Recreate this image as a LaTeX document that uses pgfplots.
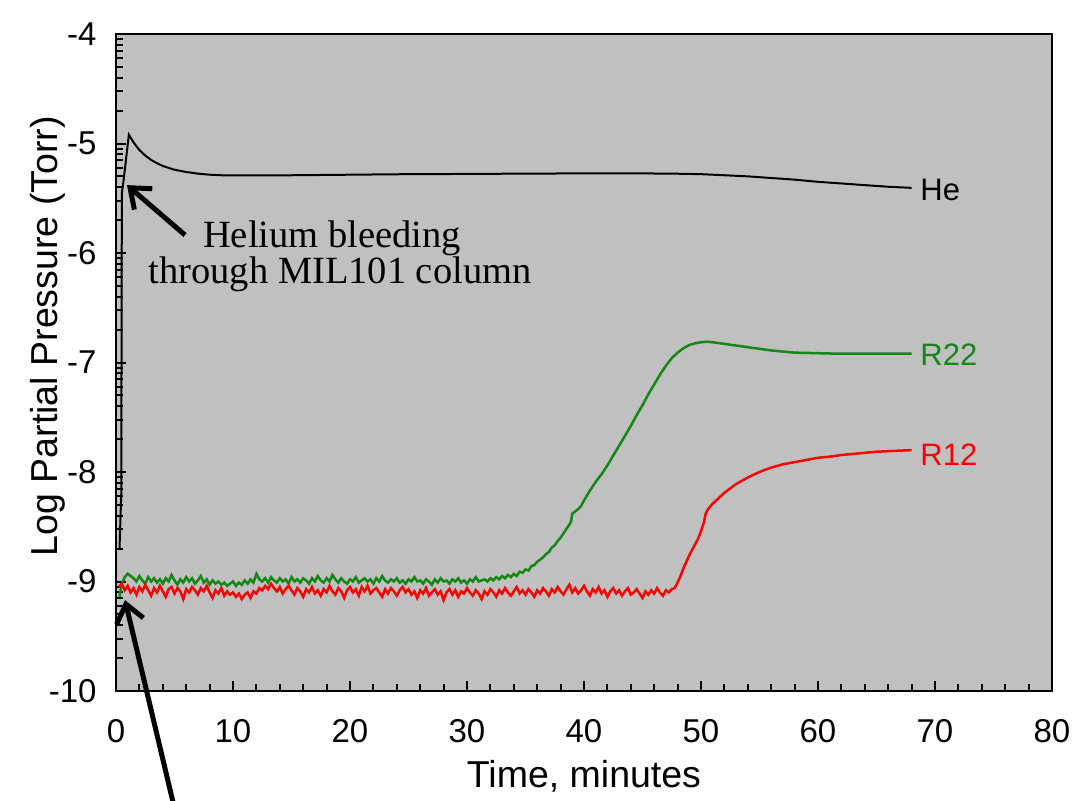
\documentclass[border=0pt]{standalone}
\usepackage{fontspec}
\setmainfont{Liberation Sans}
\newfontfamily\annfont{Liberation Serif}
\usepackage{pgfplots}
\pgfplotsset{compat=1.18}
\usetikzlibrary{arrows.meta}
\definecolor{bggray}{RGB}{192,192,192}
\definecolor{rgreen}{RGB}{20,135,20}
\definecolor{rred}{RGB}{255,0,0}

\begin{document}
\begin{tikzpicture}
\useasboundingbox (-46.4pt,-44pt) rectangle (383.6pt,276.4pt);
\begin{axis}[
    scale only axis,
    width=374.4pt, height=262.8pt,
    xmin=0, xmax=80, ymin=-10, ymax=-4,
    clip=false,
    axis background/.style={fill=bggray},
    axis line style={line width=1pt},
    xtick={0,10,...,80},
    minor x tick num=4,
    ytick={-10,-9,...,-4},
    yticklabels={-10,-9,-8,-7,-6,-5,-4},
    minor ytick={-9.69897,-9.52288,-9.39794,-9.30103,-9.22185,-9.15490,-9.09691,-9.04576,
                 -8.69897,-8.52288,-8.39794,-8.30103,-8.22185,-8.15490,-8.09691,-8.04576,
                 -7.69897,-7.52288,-7.39794,-7.30103,-7.22185,-7.15490,-7.09691,-7.04576,
                 -6.69897,-6.52288,-6.39794,-6.30103,-6.22185,-6.15490,-6.09691,-6.04576,
                 -5.69897,-5.52288,-5.39794,-5.30103,-5.22185,-5.15490,-5.09691,-5.04576,
                 -4.69897,-4.52288,-4.39794,-4.30103,-4.22185,-4.15490,-4.09691,-4.04576},
    xtick pos=bottom, ytick pos=left,
    tick align=inside,
    major tick length=4pt, minor tick length=2.8pt,
    every tick/.style={black, line width=0.8pt},
    /pgf/number format/assume math mode=true,
    xticklabel style={font=\fontsize{13.2}{15}\selectfont, anchor=base, yshift=-20.4pt},
    yticklabel style={font=\fontsize{13.2}{15}\selectfont, anchor=east, inner sep=0pt, xshift=-7.6pt},
    xlabel={Time, minutes},
    ylabel={Log Partial Pressure (Torr)},
    xlabel style={font=\fontsize{15}{17}\selectfont, at={(axis description cs:0.5,-0.1476)}, anchor=base},
    ylabel style={font=\fontsize{15}{17}\selectfont, at={(axis description cs:-0.063,0.54)}, anchor=base, rotate=0},
]
% He
\addplot[black, line width=0.8pt] coordinates {
(0.3,-8.7)(0.45,-8.2)(0.5,-5.45)(0.6,-5.38)(1.1,-4.92)(1.5,-4.99)(2,-5.06)(2.5,-5.11)(3,-5.15)(3.5,-5.18)
(4,-5.205)(5,-5.24)(6,-5.26)(7,-5.275)(8,-5.285)(9,-5.29)(10,-5.292)(12,-5.292)(15,-5.29)(20,-5.285)
(25,-5.28)(30,-5.278)(35,-5.275)(40,-5.273)(45,-5.273)(48,-5.276)(50,-5.28)(52,-5.29)(54,-5.30)(56,-5.315)
(58,-5.33)(60,-5.35)(62,-5.365)(64,-5.38)(66,-5.395)(68,-5.405)};
% R22
\addplot[rgreen, line width=1pt] coordinates {
(0.3,-9.14)(0.5,-9.02)(0.75,-8.96)(1,-8.93)(1.25,-8.95)
(1.5,-8.97)(1.75,-9.00)(2,-8.95)(2.25,-8.99)(2.5,-9.02)(2.75,-8.96)(3,-9.00)(3.25,-8.97)(3.5,-9.01)(3.75,-8.98)
(4,-9.02)(4.25,-8.97)(4.5,-9.00)(4.75,-8.94)(5,-8.99)(5.25,-9.03)(5.5,-8.98)(5.75,-9.01)(6,-8.96)(6.25,-9.00)
(6.5,-8.97)(6.75,-9.02)(7,-8.99)(7.25,-8.95)(7.5,-9.01)(7.75,-8.98)(8,-9.03)(8.25,-8.99)(8.5,-9.02)(8.75,-9.00)
(9,-9.03)(9.25,-9.01)(9.5,-9.04)(9.75,-9.02)(10,-9.00)(10.25,-9.04)(10.5,-9.01)(10.75,-9.03)(11,-8.99)(11.25,-9.02)
(11.5,-8.98)(11.75,-9.01)(12,-8.93)(12.25,-8.98)(12.5,-9.00)(12.75,-8.97)(13,-9.01)(13.25,-8.96)(13.5,-8.99)(13.75,-9.01)
(14,-8.97)(14.25,-9.00)(14.5,-8.98)(14.75,-9.02)(15,-8.96)(15.25,-9.00)(15.5,-8.98)(15.75,-9.01)(16,-8.97)(16.25,-8.99)
(16.5,-9.02)(16.75,-8.97)(17,-9.00)(17.25,-8.95)(17.5,-8.99)(17.75,-9.01)(18,-8.97)(18.25,-9.00)(18.5,-8.94)(18.75,-8.98)
(19,-9.01)(19.25,-8.97)(19.5,-9.00)(19.75,-9.02)(20,-8.98)(20.25,-9.00)(20.5,-8.96)(20.75,-9.01)(21,-8.99)(21.25,-8.97)
(21.5,-9.00)(21.75,-8.98)(22,-9.02)(22.25,-8.97)(22.5,-9.00)(22.75,-8.95)(23,-8.99)(23.25,-9.01)(23.5,-8.98)(23.75,-9.00)
(24,-8.97)(24.25,-9.01)(24.5,-8.99)(24.75,-9.02)(25,-8.98)(25.25,-9.00)(25.5,-8.96)(25.75,-9.00)(26,-8.99)(26.25,-9.02)
(26.5,-8.98)(26.75,-9.00)(27,-9.03)(27.25,-8.98)(27.5,-9.01)(27.75,-8.97)(28,-9.00)(28.25,-8.99)(28.5,-9.02)(28.75,-8.98)
(29,-9.00)(29.25,-8.97)(29.5,-9.01)(29.75,-8.99)(30,-9.02)(30.25,-8.98)(30.5,-9.00)(30.75,-8.96)(31,-9.00)(31.25,-8.99)
(31.5,-8.98)(31.75,-9.00)(32,-8.97)(32.25,-8.99)(32.5,-8.96)(32.75,-8.98)(33,-8.95)(33.25,-8.97)(33.5,-8.94)(33.75,-8.96)
(34,-8.93)(34.25,-8.95)(34.5,-8.91)(34.75,-8.92)(35,-8.89)(35.25,-8.90)(35.5,-8.86)(35.75,-8.85)(36,-8.82)(36.25,-8.80)
(36.5,-8.78)(36.75,-8.75)(37,-8.73)(37.25,-8.69)(37.5,-8.67)(37.75,-8.63)(38,-8.60)(38.25,-8.56)(38.5,-8.52)(38.75,-8.48)
(38.9,-8.45)(39,-8.38)(39.25,-8.36)(39.5,-8.34)(39.75,-8.31)(40,-8.26)(40.5,-8.17)(41,-8.09)(41.5,-8.02)(42,-7.94)
(42.5,-7.85)(43,-7.76)(43.5,-7.67)(44,-7.58)(44.5,-7.48)(45,-7.39)(45.5,-7.29)(46,-7.20)(46.5,-7.11)(47,-7.03)
(47.5,-6.96)(48,-6.91)(48.5,-6.87)(49,-6.84)(49.5,-6.825)(50,-6.815)(50.5,-6.81)(51,-6.815)(52,-6.83)(53,-6.845)
(54,-6.86)(55,-6.875)(56,-6.89)(57,-6.90)(58,-6.91)(60,-6.915)(62,-6.92)(64,-6.92)(66,-6.92)(68,-6.92)};
% R12
\addplot[rred, line width=1pt] coordinates {
(0.25,-9.05)(0.5,-9.02)(0.75,-9.08)(1,-9.04)(1.25,-9.10)(1.5,-9.06)(1.75,-9.12)(2,-9.05)(2.25,-9.09)(2.5,-9.03)
(2.75,-9.08)(3,-9.13)(3.25,-9.06)(3.5,-9.10)(3.75,-9.04)(4,-9.09)(4.25,-9.14)(4.5,-9.07)(4.75,-9.05)(5,-9.11)
(5.25,-9.06)(5.5,-9.09)(5.75,-9.16)(6,-9.07)(6.25,-9.10)(6.5,-9.05)(6.75,-9.08)(7,-9.12)(7.25,-9.06)(7.5,-9.09)
(7.75,-9.04)(8,-9.10)(8.25,-9.15)(8.5,-9.08)(8.75,-9.11)(9,-9.06)(9.25,-9.13)(9.5,-9.09)(9.75,-9.12)(10,-9.10)
(10.25,-9.14)(10.5,-9.11)(10.75,-9.16)(11,-9.12)(11.25,-9.10)(11.5,-9.15)(11.75,-9.09)(12,-9.11)(12.25,-9.06)(12.5,-9.08)
(12.75,-9.04)(13,-9.07)(13.25,-9.02)(13.5,-9.06)(13.75,-9.09)(14,-9.05)(14.25,-9.11)(14.5,-9.07)(14.75,-9.04)(15,-9.08)
(15.25,-9.12)(15.5,-9.06)(15.75,-9.09)(16,-9.14)(16.25,-9.07)(16.5,-9.10)(16.75,-9.05)(17,-9.11)(17.25,-9.08)(17.5,-9.13)
(17.75,-9.07)(18,-9.10)(18.25,-9.04)(18.5,-9.09)(18.75,-9.12)(19,-9.06)(19.25,-9.09)(19.5,-9.15)(19.75,-9.08)(20,-9.05)
(20.25,-9.10)(20.5,-9.07)(20.75,-9.13)(21,-9.05)(21.25,-9.09)(21.5,-9.04)(21.75,-9.11)(22,-9.08)(22.25,-9.06)(22.5,-9.10)
(22.75,-9.14)(23,-9.07)(23.25,-9.11)(23.5,-9.06)(23.75,-9.09)(24,-9.13)(24.25,-9.08)(24.5,-9.05)(24.75,-9.10)(25,-9.07)
(25.25,-9.12)(25.5,-9.09)(25.75,-9.15)(26,-9.08)(26.25,-9.11)(26.5,-9.06)(26.75,-9.13)(27,-9.10)(27.25,-9.07)(27.5,-9.12)
(27.75,-9.09)(28,-9.17)(28.25,-9.10)(28.5,-9.07)(28.75,-9.12)(29,-9.08)(29.25,-9.14)(29.5,-9.09)(29.75,-9.11)(30,-9.06)
(30.25,-9.10)(30.5,-9.13)(30.75,-9.08)(31,-9.11)(31.25,-9.16)(31.5,-9.09)(31.75,-9.12)(32,-9.07)(32.25,-9.10)(32.5,-9.14)
(32.75,-9.08)(33,-9.11)(33.25,-9.06)(33.5,-9.10)(33.75,-9.13)(34,-9.09)(34.25,-9.05)(34.5,-9.11)(34.75,-9.08)(35,-9.12)
(35.25,-9.07)(35.5,-9.10)(35.75,-9.14)(36,-9.08)(36.25,-9.11)(36.5,-9.06)(36.75,-9.09)(37,-9.13)(37.25,-9.07)(37.5,-9.10)
(37.75,-9.05)(38,-9.09)(38.25,-9.12)(38.5,-9.07)(38.75,-9.03)(39,-9.10)(39.25,-9.06)(39.5,-9.11)(39.75,-9.08)(40,-9.04)
(40.25,-9.09)(40.5,-9.13)(40.75,-9.07)(41,-9.10)(41.25,-9.05)(41.5,-9.11)(41.75,-9.08)(42,-9.14)(42.25,-9.09)(42.5,-9.06)
(42.75,-9.11)(43,-9.08)(43.25,-9.13)(43.5,-9.09)(43.75,-9.06)(44,-9.12)(44.25,-9.10)(44.5,-9.07)(44.75,-9.11)(45,-9.15)
(45.25,-9.09)(45.5,-9.12)(45.75,-9.08)(46,-9.11)(46.25,-9.06)(46.5,-9.10)(46.75,-9.13)(47,-9.08)(47.25,-9.10)(47.5,-9.07)
(47.75,-9.06)(48,-9.01)(48.25,-8.95)(48.5,-8.88)(48.75,-8.82)(49,-8.76)(49.25,-8.71)(49.5,-8.66)(49.75,-8.61)(50,-8.54)
(50.25,-8.46)(50.4,-8.38)(50.6,-8.34)(51,-8.29)(51.5,-8.24)(52,-8.19)(52.5,-8.15)(53,-8.11)(53.5,-8.08)(54,-8.05)
(55,-8.00)(56,-7.96)(57,-7.93)(58,-7.91)(59,-7.89)(60,-7.87)(61,-7.86)(62,-7.845)(63,-7.835)(64,-7.825)
(65,-7.815)(66,-7.81)(67,-7.805)(68,-7.80)};
% curve labels
\node[anchor=west, inner sep=1pt, font=\fontsize{12.4}{14}\selectfont] at (axis cs:68.5,-5.42) {He};
\node[anchor=west, inner sep=1pt, font=\fontsize{12.4}{14}\selectfont, text=rgreen] at (axis cs:68.5,-6.93) {R22};
\node[anchor=west, inner sep=1pt, font=\fontsize{12.4}{14}\selectfont, text=rred] at (axis cs:68.5,-7.84) {R12};
% annotations
\node[anchor=base, font=\annfont\fontsize{15.4}{14}\selectfont] at (axis cs:18.46,-5.954) {Helium bleeding};
\node[anchor=base, font=\annfont\fontsize{15.4}{14}\selectfont] at (axis cs:19.15,-6.274) {through MIL101 column};
\draw[line width=2pt, -{Straight Barb[length=7pt,width=11pt,line width=2pt]}] (axis cs:5.9,-5.836) -- (axis cs:0.94,-5.38);
\draw[line width=2pt, -{Straight Barb[length=7pt,width=11pt,line width=2pt]}] (axis cs:5.73,-11.4) -- (axis cs:0.77,-9.17);
\end{axis}
\end{tikzpicture}
\end{document}
